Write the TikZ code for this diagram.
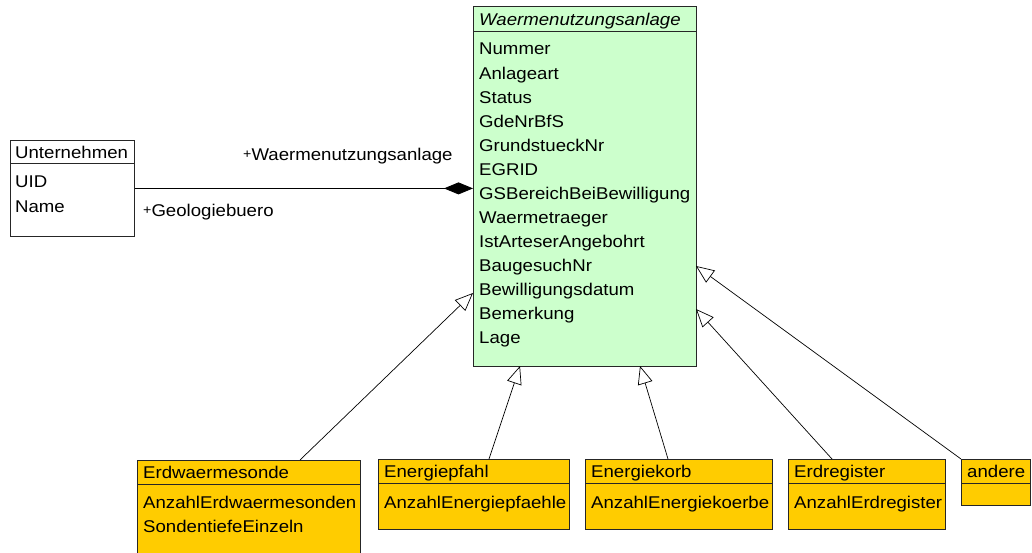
\documentclass[tikz,border=0pt]{standalone}
\usepackage{fontspec}
\setmainfont[FakeStretch=1.095]{Liberation Sans}
\usetikzlibrary{arrows.meta}
\definecolor{clsgreen}{RGB}{204,255,204}
\definecolor{clsyellow}{RGB}{255,204,0}
\newcommand{\rolep}{\raisebox{2.5pt}{\fontsize{13}{13}\selectfont +}}

\begin{document}
\begin{tikzpicture}[x=1pt, y=-1pt,
		cls/.style={draw=black!85, line width=0.8pt, anchor=north west, inner sep=0pt},
		sep/.style={draw=black!85, line width=0.8pt},
		txt/.style={anchor=base west, inner sep=0pt, text=black, font=\fontsize{17}{17}\selectfont},
		gen/.style={-{Triangle[open, length=18pt, width=15pt]}, line width=0.7pt},
		comp/.style={-{Diamond[length=29pt, width=12pt]}, line width=0.8pt}]
			\useasboundingbox (0,0) rectangle (1032,553);
			\node[cls, fill=white, minimum width=124pt, minimum height=96pt] (un) at (10,140) {};
			\draw[sep] (10,163) -- (134,163);
			\node[txt] (unH) at (15,159) {Unternehmen};
			\node[txt] (unA) at (15,188) {UID};
			\node[txt] (unB) at (15,213) {Name};
			\node[cls, fill=clsgreen, minimum width=223pt, minimum height=360pt] (wna) at (473,6) {};
			\draw[sep] (473,31) -- (696,31);
			\node[txt, font=\fontsize{17}{17}\selectfont\itshape] (wnaH) at (479,26) {Waermenutzungsanlage};
			\foreach \a [count=\i] in {Nummer, Anlageart, Status, GdeNrBfS, GrundstueckNr, EGRID,
				GSBereichBeiBewilligung, Waermetraeger, IstArteserAngebohrt, BaugesuchNr,
				Bewilligungsdatum, Bemerkung, Lage}
				\node[txt] (wna\i) at (479, 30.96+24.04*\i) {\a};
			\draw[comp] (un.east) -- (un.east -| wna.west);
			\node[txt] (roleA) at (243,161) {\rolep Waermenutzungsanlage};
			\node[txt] (roleB) at (143,217) {\rolep Geologiebuero};
			\node[cls, fill=clsyellow, minimum width=223pt, minimum height=100pt] (ews) at (137,460) {};
			\draw[sep] (137,484) -- (360,484);
			\node[txt] (ewsH) at (143,478) {Erdwaermesonde};
			\node[txt] (ewsA) at (143,508.5) {AnzahlErdwaermesonden};
			\node[txt] (ewsB) at (143,532.5) {SondentiefeEinzeln};
			\node[cls, fill=clsyellow, minimum width=191pt, minimum height=70pt] (epf) at (378,459) {};
			\draw[sep] (378,483.5) -- (569,483.5);
			\node[txt] (epfH) at (384,477.5) {Energiepfahl};
			\node[txt] (epfA) at (384,508.5) {AnzahlEnergiepfaehle};
			\node[cls, fill=clsyellow, minimum width=187pt, minimum height=70pt] (ekb) at (585,459) {};
			\draw[sep] (585,483.5) -- (772,483.5);
			\node[txt] (ekbH) at (591,477.5) {Energiekorb};
			\node[txt] (ekbA) at (591,508.5) {AnzahlEnergiekoerbe};
			\node[cls, fill=clsyellow, minimum width=157pt, minimum height=70pt] (erg) at (788,459) {};
			\draw[sep] (788,483.5) -- (945,483.5);
			\node[txt] (ergH) at (794,477.5) {Erdregister};
			\node[txt] (ergA) at (794,508.5) {AnzahlErdregister};
			\node[cls, fill=clsyellow, minimum width=69pt, minimum height=46pt] (and) at (961,459) {};
			\draw[sep] (961,483.5) -- (1030,483.5);
			\node[txt] (andH) at (967,477.5) {andere};
			\coordinate (ewsT) at (300,460);
			\coordinate (wnaP1) at (473,293);
			\coordinate (epfT) at (489,459);
			\coordinate (wnaP2) at (520,366);
			\coordinate (ekbT) at (668,459);
			\coordinate (wnaP3) at (640,366);
			\coordinate (ergT) at (832,459);
			\coordinate (wnaP4) at (696,309);
			\coordinate (andT) at (961,459);
			\coordinate (wnaP5) at (696,266);
			\draw[gen] (ewsT) -- (wnaP1);
			\draw[gen] (epfT) -- (wnaP2);
			\draw[gen] (ekbT) -- (wnaP3);
			\draw[gen] (ergT) -- (wnaP4);
			\draw[gen] (andT) -- (wnaP5);
		\end{tikzpicture}
\end{document}
